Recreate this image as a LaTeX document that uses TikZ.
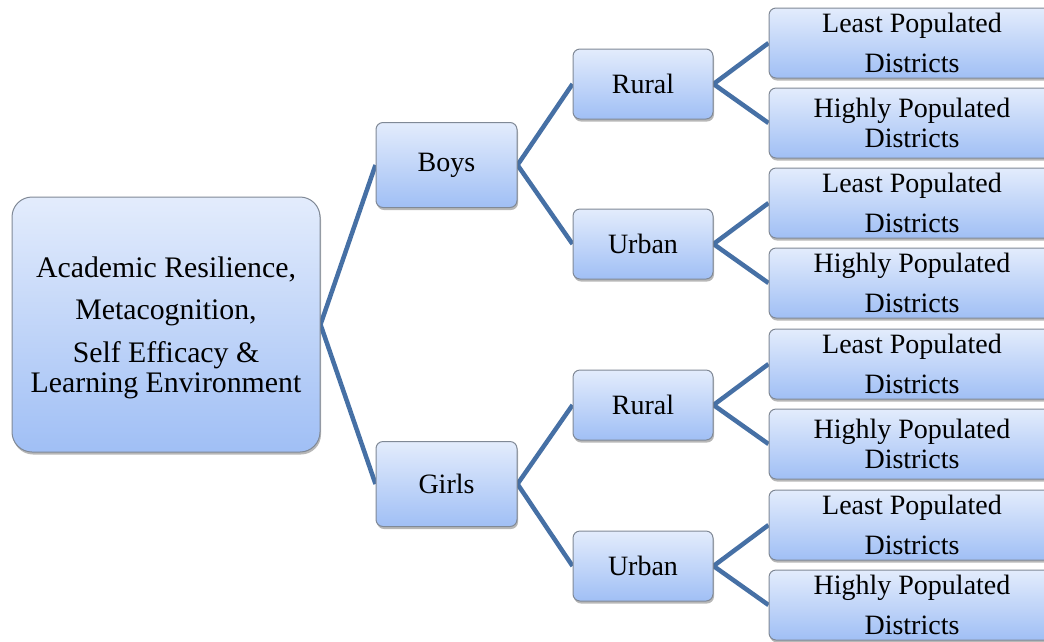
\documentclass[tikz,border=0pt]{standalone}
\usepackage{fontspec}
\setmainfont{Liberation Serif}
\usetikzlibrary{shadows,backgrounds}

\definecolor{boxtop}{RGB}{227,236,252}
\definecolor{boxbot}{RGB}{160,191,245}
\definecolor{boxline}{RGB}{128,137,150}
\definecolor{linkblue}{RGB}{70,112,165}

\tikzset{
  box/.style={draw=boxline, line width=1pt, top color=boxtop, bottom color=boxbot,
    rounded corners=7pt, align=center, inner sep=0pt,
    font=\fontsize{28}{29.5}\selectfont,
    drop shadow={shadow xshift=1pt, shadow yshift=-2.5pt, opacity=0.4, fill=black!70}},
  rootbox/.style={box, rounded corners=20pt, minimum width=308pt, minimum height=255pt,
    font=\fontsize{29.8}{31}\selectfont},
  genderbox/.style={box, minimum width=141pt, minimum height=85pt},
  areabox/.style={box, minimum width=140pt, minimum height=70pt},
  leafbox/.style={box, minimum width=286pt, minimum height=70pt},
  link/.style={draw=linkblue, line width=4.5pt}
}

\begin{document}
\begin{tikzpicture}[x=1pt, y=-1pt]
  \useasboundingbox (0,0) rectangle (1044,641);

  % root (an empty first line pushes the text block slightly down)
  \node[rootbox] (root) at (166,324.5)
    {\rule{0pt}{0pt}\\[-3pt]Academic Resilience,\\[11pt] Metacognition,\\[12pt] Self Efficacy \&\\[-1pt] Learning Environment};

  % gender level
  \node[genderbox] (boys)  at (446.5,165) {Boys};
  \node[genderbox] (girls) at (446.5,484) {Girls};

  % area level
  \node[areabox] (brural) at (643,84)  {Rural};
  \node[areabox] (burban) at (643,244) {Urban};
  \node[areabox] (grural) at (643,405) {Rural};
  \node[areabox] (gurban) at (643,566) {Urban};

  % district level
  \node[leafbox] (l1) at (912,43)  {Least Populated\\[10.5pt] Districts};
  \node[leafbox] (l2) at (912,123) {Highly Populated\\ Districts};
  \node[leafbox] (l3) at (912,203) {Least Populated\\[10.5pt] Districts};
  \node[leafbox] (l4) at (912,283) {Highly Populated\\[10.5pt] Districts};
  \node[leafbox] (l5) at (912,364) {Least Populated\\[10.5pt] Districts};
  \node[leafbox] (l6) at (912,444) {Highly Populated\\ Districts};
  \node[leafbox] (l7) at (912,525) {Least Populated\\[10.5pt] Districts};
  \node[leafbox] (l8) at (912,605) {Highly Populated\\[10.5pt] Districts};

  % connectors
  \begin{scope}[on background layer]
    \draw[link] (boys.west) -- (root.east) -- (girls.west);
    \draw[link] (brural.west) -- (boys.east) -- (burban.west);
    \draw[link] (grural.west) -- (girls.east) -- (gurban.west);
    \draw[link] (l1.west) -- (brural.east) -- (l2.west);
    \draw[link] (l3.west) -- (burban.east) -- (l4.west);
    \draw[link] (l5.west) -- (grural.east) -- (l6.west);
    \draw[link] (l7.west) -- (gurban.east) -- (l8.west);
  \end{scope}
\end{tikzpicture}
\end{document}
